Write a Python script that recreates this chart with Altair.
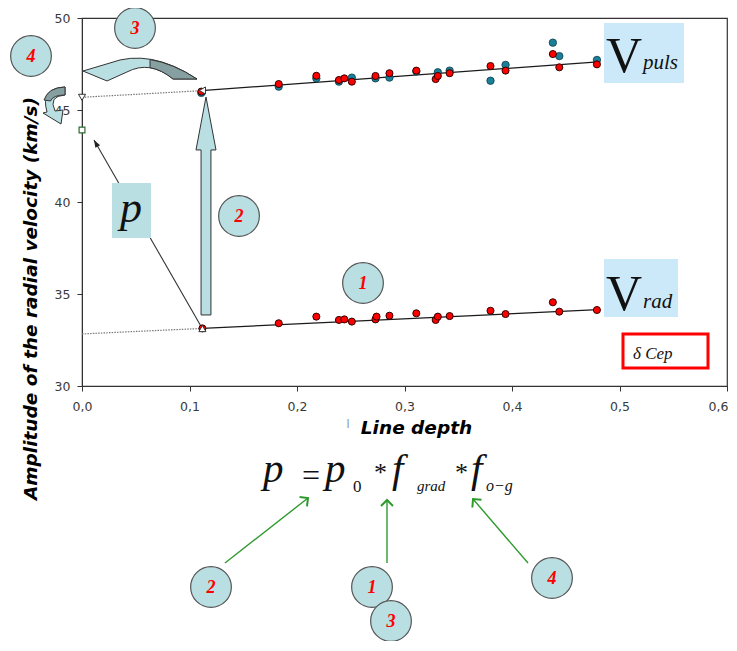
import math
import altair as alt
import pandas as pd

# ---------------- values ----------------
# upper series (pulsation amplitude), red and teal measurements
puls_red_depth = [0.111, 0.183, 0.218, 0.239, 0.244, 0.251, 0.273, 0.286, 0.311,
                  0.329, 0.331, 0.342, 0.380, 0.394, 0.438, 0.444, 0.479]
puls_red_amp = [46.00, 46.41, 46.86, 46.63, 46.72, 46.54, 46.85, 47.00, 47.14,
                46.68, 46.85, 47.00, 47.39, 47.14, 48.04, 47.32, 47.48]
puls_teal_depth = [0.111, 0.183, 0.218, 0.239, 0.251, 0.273, 0.286, 0.311, 0.331,
                   0.342, 0.380, 0.394, 0.438, 0.444, 0.479]
puls_teal_amp = [45.93, 46.27, 46.72, 46.54, 46.76, 46.72, 46.76, 47.10, 47.05,
                 47.14, 46.59, 47.45, 48.66, 47.93, 47.72]
# lower series (radial velocity amplitude)
rad_depth = [0.112, 0.183, 0.218, 0.239, 0.244, 0.251, 0.273, 0.274, 0.286,
             0.311, 0.329, 0.331, 0.342, 0.380, 0.394, 0.438, 0.444, 0.479]
rad_amp = [33.13, 33.41, 33.77, 33.59, 33.62, 33.50, 33.62, 33.77, 33.82,
           33.95, 33.59, 33.77, 33.80, 34.09, 33.91, 34.55, 34.04, 34.13]
# fitted lines (start / end)
fit_x_start = [0.111, 0.0, 0.112, 0.0]
fit_y_start = [46.05, 45.69, 33.13, 32.83]
fit_x_end = [0.480, 0.111, 0.480, 0.112]
fit_y_end = [47.62, 46.05, 34.15, 33.13]
fit_kind = ["solid", "dotted", "solid", "dotted"]
# special markers
marker_depth = [0.0, 0.112, 0.112]
marker_amp = [45.69, 46.06, 33.12]
marker_shape = ["triangle-down", "triangle-left", "triangle-up"]
p_depth = [0.0]
p_amp = [43.91]
# axis ticks
x_ticks = [0.0, 0.1, 0.2, 0.3, 0.4, 0.5, 0.6]
y_ticks = [30, 35, 40, 45, 50]

# ---------------- layout helpers (annotation placement) ----------------
W, H = 645, 368
PAD_L, PAD_T = 74, 10
OX, OY = 8 + PAD_L, 8 + PAD_T
XD, YD = [0.0, 0.6], [30.0, 50.0]


def dx(px):
    return XD[0] + (px - OX) / W * (XD[1] - XD[0])


def dy(py):
    return YD[1] - (py - OY) / H * (YD[1] - YD[0])


def sym_path(cmds, cx, cy, s):
    out = []
    for c in cmds:
        op, pts = c[0], c[1:]
        out.append(op + " ".join(f"{(x - cx) / s:.3f},{(y - cy) / s:.3f}" for x, y in pts))
    return "".join(out)


xs = alt.Scale(domain=XD, nice=False, zero=False)
ys = alt.Scale(domain=YD, nice=False, zero=False)
lab = dict(labelFont="DejaVu Sans", labelFontSize=12.5, labelColor="#3a3a3a",
           tickSize=5, tickColor="#333", domainColor="#333", grid=False,
           titleFont="DejaVu Sans", titleFontSize=18.5, titleFontStyle="italic",
           titleFontWeight="bold", titleColor="black", titleBaseline="alphabetic")
xaxis = alt.Axis(values=x_ticks, labelExpr="replace(format(datum.value, '.1f'), '.', ',')",
                 labelFlush=False, labelPadding=9, title="Line depth",
                 labelAlign={"condition": {"test": "datum.value > 0.55", "value": "right"},
                             "value": "center"},
                 labelOffset={"condition": {"test": "datum.value > 0.55", "value": 1},
                              "value": 0},
                 titleX=416 - OX, titleY=433 - (OY + H), **lab)
yaxis = alt.Axis(values=y_ticks, format="d", labelPadding=7,
                 title="Amplitude of the radial velocity (km/s)",
                 titleAngle=270, titleX=36 - OX, titleY=298 - OY, **lab)


def X(f="x"):
    return alt.X(f"{f}:Q", scale=xs, axis=xaxis)


def Y(f="y"):
    return alt.Y(f"{f}:Q", scale=ys, axis=yaxis)


# ---------------- data layers ----------------
fit = pd.DataFrame({"x": fit_x_start, "y": fit_y_start, "x2": fit_x_end,
                    "y2": fit_y_end, "kind": fit_kind})
solid = alt.Chart(fit[fit.kind == "solid"]).mark_rule(color="#1a1a1a", strokeWidth=1.3).encode(
    x=X(), y=Y(), x2="x2:Q", y2="y2:Q")
dotted = alt.Chart(fit[fit.kind == "dotted"]).mark_rule(
    color="#777", strokeWidth=1.2, strokeDash=[1.5, 1.2]).encode(x=X(), y=Y(), x2="x2:Q", y2="y2:Q")

teal = alt.Chart(pd.DataFrame({"x": puls_teal_depth, "y": puls_teal_amp})).mark_point(
    shape="circle", filled=True, fill="#1a7f98", stroke="#0b3c48", strokeWidth=0.8,
    size=55, opacity=1).encode(x=X(), y=Y())
red = alt.Chart(pd.DataFrame({"x": puls_red_depth + rad_depth,
                              "y": puls_red_amp + rad_amp})).mark_point(
    shape="circle", filled=True, fill="#ff0000", stroke="#300000", strokeWidth=1,
    size=50, opacity=1).encode(x=X(), y=Y())
markers = alt.Chart(pd.DataFrame({"x": marker_depth, "y": marker_amp, "s": marker_shape})).mark_point(
    filled=True, fill="white", stroke="#333", strokeWidth=1, size=50, opacity=1).encode(
    x=X(), y=Y(), shape=alt.Shape("s:N", scale=None))
psq = alt.Chart(pd.DataFrame({"x": p_depth, "y": p_amp})).mark_point(
    shape="square", filled=True, fill="white", stroke="#2f6b2f", strokeWidth=1.2,
    size=34, opacity=1).encode(x=X(), y=Y())

# ---------------- annotation layers ----------------
# line from the lower triangle to p (with arrowhead)
pl0, pl1 = (202, 328), (94, 140)
pline = alt.Chart(pd.DataFrame({"x": [dx(pl0[0])], "y": [dy(pl0[1])],
                                "x2": [dx(pl1[0])], "y2": [dy(pl1[1])]})).mark_rule(
    color="#333", strokeWidth=1.1).encode(x=X(), y=Y(), x2="x2:Q", y2="y2:Q")
ang_p = math.degrees(math.atan2(pl1[0] - pl0[0], -(pl1[1] - pl0[1]))) % 360
phead = alt.Chart(pd.DataFrame({"x": [dx(pl1[0])], "y": [dy(pl1[1])]})).mark_point(
    shape="M0,0L-0.55,1.5L0.55,1.5Z", filled=True, fill="#222", size=100, angle=ang_p,
    opacity=1).encode(x=X(), y=Y())


def rect_df(boxes):
    return pd.DataFrame({"x": [dx(b[0]) for b in boxes], "x2": [dx(b[1]) for b in boxes],
                         "y": [dy(b[2]) for b in boxes], "y2": [dy(b[3]) for b in boxes]})


pbox = alt.Chart(rect_df([(112, 151, 183, 238)])).mark_rect(fill="#b9dfe3").encode(
    x=X(), x2="x2:Q", y=Y(), y2="y2:Q")
vbox = alt.Chart(rect_df([(604, 684, 23, 83), (604, 678, 259, 317)])).mark_rect(
    fill="#cce9fa").encode(x=X(), x2="x2:Q", y=Y(), y2="y2:Q")
cepbox = alt.Chart(rect_df([(623, 708, 334, 368)])).mark_rect(
    fill="white", stroke="#ff0000", strokeWidth=3).encode(x=X(), x2="x2:Q", y=Y(), y2="y2:Q")

# block / curved arrows as custom symbol paths
arrow_v = [("M", (206, 97)), ("L", (216, 150)), ("L", (211, 150)), ("L", (211, 315)),
           ("L", (201, 315)), ("L", (201, 150)), ("L", (196, 150)), ("Z",)]
arrow3 = [("M", (83, 71)), ("L", (110, 63)), ("Q", (150, 48), (197, 79)), ("L", (173, 79)),
          ("Q", (150, 60), (127, 72)), ("L", (107, 81)), ("Z",)]
arrow3_dark = [("M", (150, 59.5)), ("Q", (173.5, 63.5), (197, 79)), ("L", (173, 79)),
               ("Q", (161.5, 69.5), (150, 67.75)), ("Z",)]
arrow4 = [("M", (65, 87)), ("Q", (40, 88), (47, 112)), ("L", (43, 113)), ("L", (61, 124)),
          ("L", (63, 110)), ("L", (55, 111)), ("Q", (48, 96), (65, 95)), ("Z",)]
arrow4_dark = [("M", (65, 87)), ("Q", (48, 87.5), (44, 100)), ("L", (50.5, 101)),
               ("Q", (53, 95), (65, 95)), ("Z",)]
shapes = [
    (arrow_v, 206, 206.5, 110, "#b9dfe3"),
    (arrow3, 140, 70, 60, "#b9dfe3"),
    (arrow3_dark, 140, 70, 60, "#86a0a2"),
    (arrow4, 54, 105, 20, "#b9dfe3"),
    (arrow4_dark, 54, 105, 20, "#86a0a2"),
]
shape_df = pd.DataFrame({
    "x": [dx(s[1]) for s in shapes], "y": [dy(s[2]) for s in shapes],
    "shape": [sym_path(s[0], s[1], s[2], s[3]) for s in shapes],
    "size": [(2 * s[3]) ** 2 for s in shapes], "fill": [s[4] for s in shapes],
    "order": list(range(len(shapes)))})
arrows = alt.Chart(shape_df).mark_point(filled=True, stroke="#333", strokeWidth=1,
                                        opacity=1).encode(
    x=X(), y=Y(), shape=alt.Shape("shape:N", scale=None), size=alt.Size("size:Q", scale=None),
    fill=alt.Fill("fill:N", scale=None), order="order:Q")

# numbered circles
circ_px = [(135, 28, "3"), (31, 56, "4"), (239, 216, "2"), (363, 283, "1"),
           (211, 587, "2"), (552, 578, "4"), (372, 587, "1"), (391, 621, "3")]
circ_df = pd.DataFrame({"x": [dx(c[0]) for c in circ_px], "y": [dy(c[1]) for c in circ_px],
                        "t": [c[2] for c in circ_px]})
circ_layers = []
for i in range(len(circ_px)):
    sub = circ_df.iloc[[i]]
    circ_layers.append(alt.Chart(sub).mark_point(
        shape="circle", filled=True, fill="#b9dfe3", stroke="#555", strokeWidth=1.2,
        size=1660, opacity=1).encode(x=X(), y=Y()))
    circ_layers.append(alt.Chart(sub).mark_text(
        font="Liberation Serif", fontStyle="italic", fontWeight="bold", fontSize=18,
        color="#ff0000", align="center", baseline="middle", dy=1).encode(
        x=X(), y=Y(), text="t:N"))

# texts
ital = [("p", 120, 222, 44), ("puls", 643, 69, 21), ("rad", 643, 308, 21),
        ("δ Cep", 633, 359, 17),
        ("p", 263, 482, 41), ("p", 325, 482, 41), ("f", 392, 482, 41), ("f", 471, 482, 41),
        ("grad", 417, 491, 15), ("o−g", 486, 491, 16)]
norm = [("V", 606, 72, 50), ("V", 606, 310, 50), ("=", 302, 486, 32), ("*", 374, 481, 26),
        ("*", 455, 481, 26), ("0", 353, 492, 17)]


def text_df(items):
    return pd.DataFrame({"t": [i[0] for i in items], "x": [dx(i[1]) for i in items],
                         "y": [dy(i[2]) for i in items], "fs": [i[3] for i in items]})


ital_txt = alt.Chart(text_df(ital)).mark_text(
    font="Liberation Serif", fontStyle="italic", align="left", baseline="alphabetic",
    color="#111").encode(x=X(), y=Y(), text="t:N", size=alt.Size("fs:Q", scale=None))
norm_txt = alt.Chart(text_df(norm)).mark_text(
    font="Liberation Serif", align="left", baseline="alphabetic", color="#111").encode(
    x=X(), y=Y(), text="t:N", size=alt.Size("fs:Q", scale=None))
bar_txt = alt.Chart(text_df([("|", 348, 426, 9)])).mark_text(
    font="DejaVu Sans", align="center", baseline="alphabetic", color="#666").encode(
    x=X(), y=Y(), text="t:N", size=alt.Size("fs:Q", scale=None))

# green arrows under the formula
green = [((225, 563), (308, 498)), ((387, 563), (387, 500)), ((528, 563), (473, 499))]
gdf = pd.DataFrame({"x": [dx(a[0][0]) for a in green], "y": [dy(a[0][1]) for a in green],
                    "x2": [dx(a[1][0]) for a in green], "y2": [dy(a[1][1]) for a in green],
                    "ang": [math.degrees(math.atan2(a[1][0] - a[0][0], -(a[1][1] - a[0][1]))) % 360
                            for a in green]})
g_rule = alt.Chart(gdf).mark_rule(color="#2e9a2e", strokeWidth=1.4).encode(
    x=X(), y=Y(), x2="x2:Q", y2="y2:Q")
g_head = alt.Chart(gdf).mark_point(shape="M-1,1L0,0L1,1", filled=False, color="#2e9a2e",
                                   strokeWidth=2, size=144, opacity=1).encode(
    x=X("x2"), y=Y("y2"), angle=alt.Angle("ang:Q", scale=None))

chart = alt.layer(
    dotted, solid, pline, phead, teal, red, markers, psq,
    pbox, vbox, cepbox, arrows, *circ_layers,
    ital_txt, norm_txt, bar_txt, g_rule, g_head,
).properties(
    width=W, height=H,
    autosize=alt.AutoSizeParams(type="none"),
    padding={"left": PAD_L, "top": PAD_T, "right": 2, "bottom": 255},
    background="white",
).configure_view(stroke="#333", strokeWidth=1.2)

chart.save("out.html", embed_options={"renderer": "svg", "actions": False})
